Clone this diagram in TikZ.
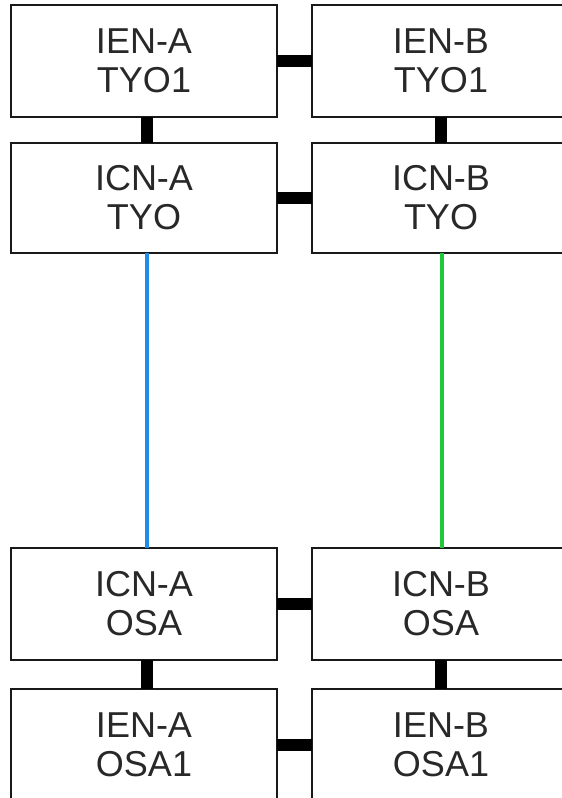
\documentclass[tikz,border=0pt]{standalone}
\usepackage{fontspec}
\setmainfont{Liberation Sans}
\definecolor{linkblue}{RGB}{30,140,232}
\definecolor{linkgreen}{RGB}{34,200,60}
\definecolor{labelgray}{RGB}{40,40,40}
\tikzset{
  site/.style={draw=black!90, line width=2pt, fill=white, rectangle, outer sep=0pt,
    minimum height=112pt, align=center, text=labelgray,
    font=\fontsize{36}{39}\selectfont},
  leftsite/.style={site, minimum width=266pt},
  rightsite/.style={site, minimum width=258pt},
  bar/.style={draw=black, line width=12pt},
  uplink/.style={line width=4pt}
}
\begin{document}
\begin{tikzpicture}[x=1pt,y=-1pt]
\clip (0,0) rectangle (562,798);
\fill[white] (0,0) rectangle (562,798);

% sites, two per row
\node[leftsite]  (ienaT) at (144,61)  {IEN-A\\TYO1};
\node[rightsite] (ienbT) at (441,61)  {IEN-B\\TYO1};
\node[leftsite, minimum height=110pt]  (icnaT) at (144,198) {ICN-A\\TYO};
\node[rightsite, minimum height=110pt] (icnbT) at (441,198) {ICN-B\\TYO};
\node[leftsite]  (icnaO) at (144,604) {ICN-A\\OSA};
\node[rightsite] (icnbO) at (441,604) {ICN-B\\OSA};
\node[leftsite]  (ienaO) at (144,745) {IEN-A\\OSA1};
\node[rightsite] (ienbO) at (441,745) {IEN-B\\OSA1};

% horizontal links between the A and B sides
\draw[bar] (ienaT.east) -- (ienbT.west);
\draw[bar] (icnaT.east) -- (icnbT.west);
\draw[bar] (icnaO.east) -- (icnbO.west);
\draw[bar] (ienaO.east) -- (ienbO.west);

% vertical links inside each site
\draw[bar] ([xshift=3pt]ienaT.south) -- ([xshift=3pt]icnaT.north);
\draw[bar] (ienbT.south) -- (icnbT.north);
\draw[bar] ([xshift=3pt]icnaO.south) -- ([xshift=3pt]ienaO.north);
\draw[bar] (icnbO.south) -- (ienbO.north);

% long-haul links between TYO and OSA
\draw[uplink, linkblue]  ([xshift=3pt]icnaT.south) -- ([xshift=3pt]icnaO.north);
\draw[uplink, linkgreen] ([xshift=1pt]icnbT.south) -- ([xshift=1pt]icnbO.north);
\end{tikzpicture}
\end{document}
